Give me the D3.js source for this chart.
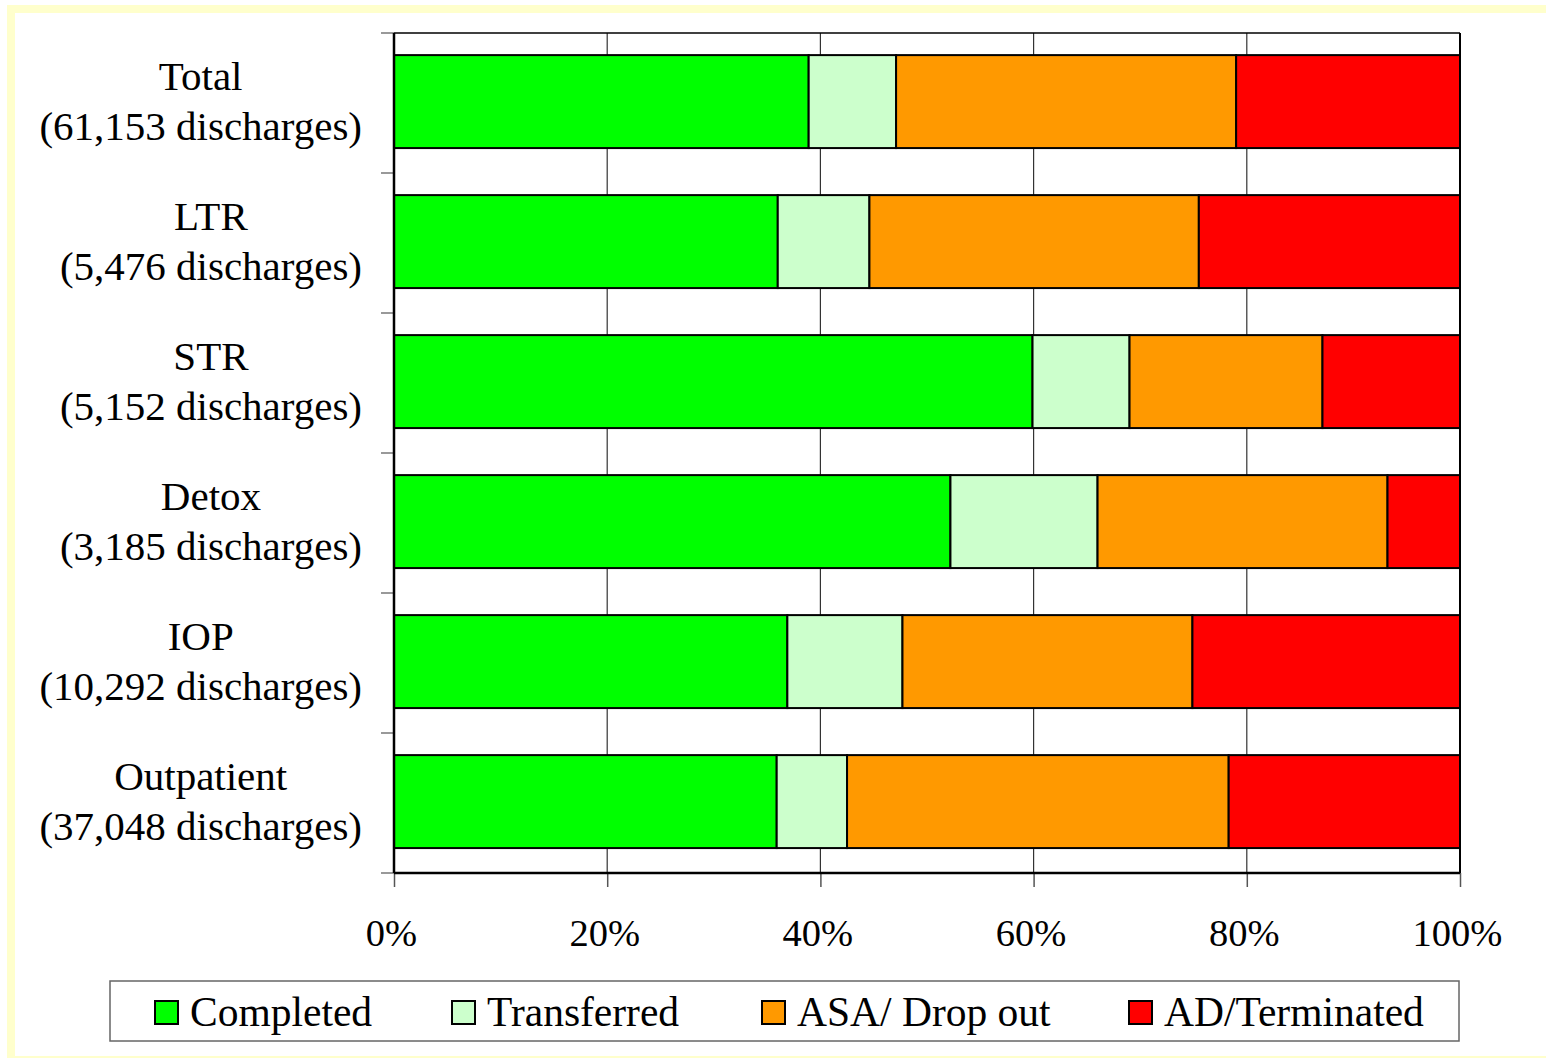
<!DOCTYPE html>
<html>
<head>
<meta charset="utf-8">
<script src="https://cdn.jsdelivr.net/npm/d3@7"></script>
<style>
  html, body { margin: 0; padding: 0; background: #fff; }
  svg { display: block; }
  text { font-family: "Liberation Serif", "Times New Roman", serif; fill: #000; }
</style>
</head>
<body>
<svg id="chart" width="1546" height="1058"></svg>
<script>
const categories = ["Total", "LTR", "STR", "Detox", "IOP", "Outpatient"];
const categoryCounts = ["(61,153 discharges)", "(5,476 discharges)", "(5,152 discharges)", "(3,185 discharges)", "(10,292 discharges)", "(37,048 discharges)"];
const seriesNames = ["Completed", "Transferred", "ASA/ Drop out", "AD/Terminated"];
const completed   = [38.9, 36.0, 59.9, 52.2, 36.9, 35.9];
const transferred = [8.2, 8.6, 9.1, 13.8, 10.8, 6.6];
const asaDropOut  = [31.9, 30.9, 18.1, 27.2, 27.2, 35.8];
const adTerminated = [21.0, 24.5, 12.9, 6.8, 25.1, 21.7];
const xTicks = [0, 20, 40, 60, 80, 100];
const colors = ["#00ff00", "#ccffcc", "#ff9900", "#ff0000"];

(function () {
const svg = d3.select("#chart");

// page frame
svg.append("rect").attr("x", 11).attr("y", 9).attr("width", 1545).attr("height", 1051)
  .attr("fill", "none").attr("stroke", "#ffffcc").attr("stroke-width", 8);

const pLeft = 394, pRight = 1460, pTop = 33, pBottom = 873;
const x = d3.scaleLinear().domain([0, 100]).range([pLeft, pRight]);
const y = d3.scaleBand().domain(categories).range([pTop, pBottom])
  .paddingInner(0.336).paddingOuter(0.168).align(0.47);

const table = categories.map((c, i) => ({
  cat: c, Completed: completed[i], Transferred: transferred[i],
  "ASA/ Drop out": asaDropOut[i], "AD/Terminated": adTerminated[i]
}));
const stacked = d3.stack().keys(seriesNames)(table);

// gridlines
svg.append("g").selectAll("line").data(xTicks.filter(t => t > 0 && t < 100)).join("line")
  .attr("x1", d => x(d)).attr("x2", d => x(d)).attr("y1", pTop).attr("y2", pBottom)
  .attr("stroke", "#333").attr("stroke-width", 1.2);

// x axis ticks
const xAxis = d3.axisBottom(x).tickValues(xTicks).tickSize(14).tickFormat(d => d + "%");
const gx = svg.append("g").attr("transform", `translate(0,${pBottom})`).call(xAxis);
gx.select(".domain").remove();
gx.selectAll(".tick line").attr("stroke", "#555").attr("stroke-width", 1.5);
gx.selectAll(".tick text").attr("y", 73).attr("dy", 0).attr("dx", -3)
  .style("font-family", "'Liberation Serif', serif").style("font-size", "38.5px").attr("fill", "#000");

// y ticks at band boundaries
const stepAll = (pBottom - pTop) / categories.length;
const bounds = d3.range(categories.length + 1).map(i => pTop + i * stepAll);
svg.append("g").selectAll("line").data(bounds).join("line")
  .attr("x1", pLeft - 13).attr("x2", pLeft).attr("y1", d => d).attr("y2", d => d)
  .attr("stroke", "#777").attr("stroke-width", 1.5);

// bars
svg.append("g").selectAll("g").data(stacked).join("g")
  .attr("fill", (d, i) => colors[i])
  .selectAll("rect").data(d => d).join("rect")
  .attr("x", d => x(d[0])).attr("width", d => x(d[1]) - x(d[0]))
  .attr("y", d => y(d.data.cat)).attr("height", y.bandwidth())
  .attr("stroke", "#000").attr("stroke-width", 2);

// plot frame
svg.append("line").attr("x1", pLeft).attr("x2", pRight).attr("y1", pTop).attr("y2", pTop)
  .attr("stroke", "#000").attr("stroke-width", 1.5);
svg.append("line").attr("x1", pRight).attr("x2", pRight).attr("y1", pTop).attr("y2", pBottom)
  .attr("stroke", "#000").attr("stroke-width", 2);
svg.append("line").attr("x1", pLeft).attr("x2", pRight).attr("y1", pBottom).attr("y2", pBottom)
  .attr("stroke", "#000").attr("stroke-width", 2.5);
svg.append("line").attr("x1", pLeft).attr("x2", pLeft).attr("y1", pTop).attr("y2", pBottom)
  .attr("stroke", "#000").attr("stroke-width", 2.5);

// category labels
const labelRight = 362;
categories.forEach((c, i) => {
  const cy = bounds[i] + stepAll / 2;
  const g = svg.append("g");
  const t1 = g.append("text").attr("y", cy - 13).attr("text-anchor", "middle")
    .style("font-size", "41px").text(c);
  const t2 = g.append("text").attr("y", cy + 37).attr("text-anchor", "middle")
    .style("font-size", "41px").text(categoryCounts[i]);
  const w = Math.max(t1.node().getComputedTextLength(), t2.node().getComputedTextLength());
  const cx = labelRight - w / 2;
  t1.attr("x", cx); t2.attr("x", cx);
});

// legend
svg.append("rect").attr("x", 110).attr("y", 981).attr("width", 1349).attr("height", 60)
  .attr("fill", "#fff").attr("stroke", "#666").attr("stroke-width", 1.5);
const legendX = [155, 452, 762, 1129];
const lg = svg.append("g").selectAll("g").data(seriesNames).join("g")
  .attr("transform", (d, i) => `translate(${legendX[i]},1001)`);
lg.append("rect").attr("width", 23).attr("height", 23)
  .attr("fill", (d, i) => colors[i]).attr("stroke", "#000").attr("stroke-width", 2);
lg.append("text").attr("x", 35).attr("y", 25).style("font-size", "41.5px").text(d => d);
})();
</script>
</body>
</html>
